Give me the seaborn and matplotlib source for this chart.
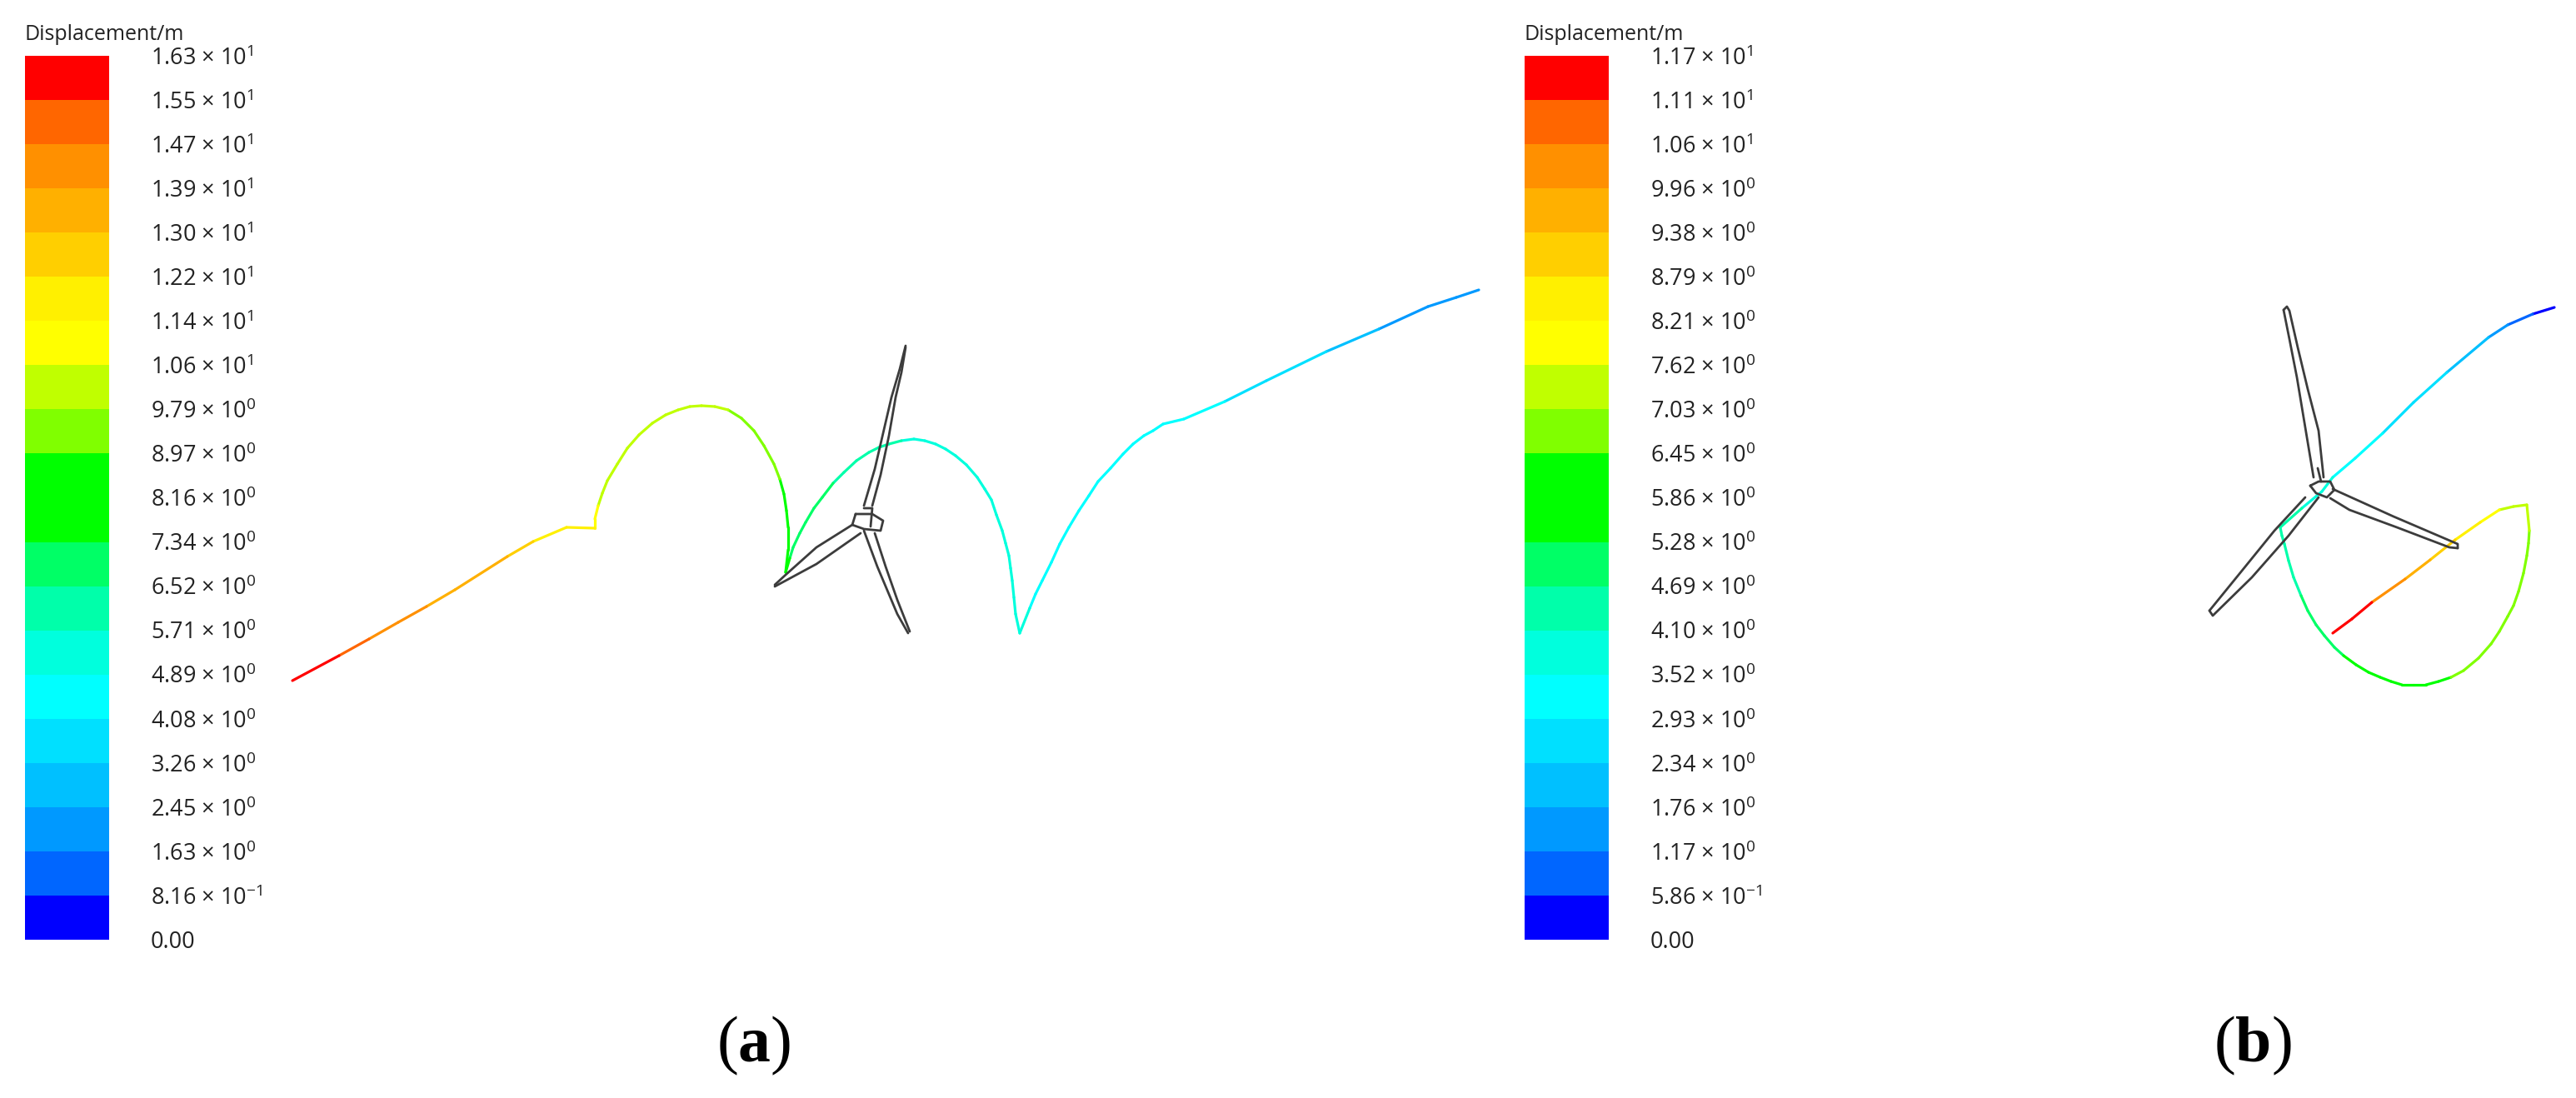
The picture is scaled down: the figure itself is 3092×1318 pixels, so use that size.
import numpy as np
import pandas as pd
import matplotlib
matplotlib.use('Agg')
import matplotlib.pyplot as plt
from matplotlib.colors import ListedColormap, BoundaryNorm
import seaborn as sns

W, H = 3092, 1318

# colour bands, top of the legend to bottom
band_colors = ['#ff0000', '#ff6600', '#ff9000', '#ffb000', '#ffcf00', '#fff000', '#ffff00',
               '#c0ff00', '#80ff00', '#00ff00', '#00ff00', '#00ff66', '#00ffaa', '#00ffdd',
               '#00ffff', '#00e0ff', '#00c0ff', '#0099ff', '#0066ff', '#0000ff']

levels_a = [16.3, 15.5, 14.7, 13.9, 13.0, 12.2, 11.4, 10.6, 9.79, 8.97, 8.16, 7.34, 6.52,
            5.71, 4.89, 4.08, 3.26, 2.45, 1.63, 0.816, 0.0]
levels_b = [11.7, 11.1, 10.6, 9.96, 9.38, 8.79, 8.21, 7.62, 7.03, 6.45, 5.86, 5.28, 4.69,
            4.10, 3.52, 2.93, 2.34, 1.76, 1.17, 0.586, 0.0]

# trajectory (a) in image pixels, with displacement from the colour
trace_a_x = [351, 407, 443, 478, 512, 546, 609, 640, 680, 714,
             714, 718, 723, 729, 741, 753, 767, 783, 799, 814, 828, 842,
             858, 874, 890, 905, 917, 929, 936, 941, 944, 946, 946, 943,
             948, 952, 960, 967, 977, 987, 1000, 1013, 1028, 1043,
             1055, 1067, 1082, 1097, 1110, 1123, 1135, 1147, 1160,
             1173, 1182, 1190, 1196, 1203, 1207, 1211, 1213, 1215, 1217, 1219, 1224,
             1236, 1243, 1251, 1262, 1272, 1283, 1295, 1307, 1318, 1333, 1348, 1360,
             1373, 1384, 1396, 1421,
             1470, 1520, 1592, 1655, 1714, 1748, 1775]
trace_a_y = [817, 787, 767, 747, 728, 708, 668, 650, 633, 634,
             623, 607, 592, 577, 557, 538, 522, 508, 498, 492, 488, 487,
             488, 492, 502, 517, 535, 557, 575, 593, 613, 633, 660, 687,
             670, 657, 640, 627, 610, 597, 580, 567, 553, 543,
             537, 533, 529, 527, 529, 533, 539, 547, 558,
             573, 587, 600, 618, 637, 652, 667, 682, 697, 717, 737, 760,
             730, 713, 697, 675, 653, 633, 613, 595, 578, 562, 545, 533,
             523, 517, 509, 503,
             482, 457, 422, 395, 368, 357, 348]
trace_a_d = [16.0, 15.0, 14.6, 14.2, 13.8, 13.5, 12.6, 12.0, 11.5, 11.0,
             10.8, 10.5, 10.4, 10.3, 10.3, 10.2, 10.1, 10.0, 10.0, 10.0, 9.9, 9.9,
             9.8, 9.6, 9.6, 9.5, 9.2, 9.0, 8.9, 8.8, 8.7, 8.5, 8.0, 7.5,
             7.2, 7.0, 7.0, 7.0, 6.9, 6.8, 6.5, 6.3, 6.1, 6.0,
             5.9, 5.8, 5.7, 5.6, 5.6, 5.5, 5.5, 5.4, 5.4,
             5.3, 5.3, 5.2, 5.2, 5.2, 5.1, 5.1, 5.1, 5.0, 5.0, 5.0, 4.9,
             4.8, 4.8, 4.8, 4.8, 4.7, 4.7, 4.7, 4.7, 4.6, 4.6, 4.6, 4.5,
             4.5, 4.5, 4.5, 4.5,
             4.0, 3.4, 3.0, 2.4, 2.0, 1.7, 1.2]

trace_b_x = [2800, 2823, 2847, 2887, 2917, 2947, 2977, 3000, 3017, 3033,
             3036, 3035, 3033, 3029, 3023, 3017, 3010, 3000, 2990, 2975, 2957,
             2942, 2927, 2912, 2897, 2883, 2870, 2857, 2843, 2828, 2813,
             2802, 2790, 2780, 2770, 2762, 2753, 2747, 2742, 2739, 2737,
             2763, 2787, 2800, 2827, 2860, 2897, 2937, 2987, 3010, 3040, 3066]
trace_b_y = [760, 743, 723, 695, 672, 648, 627, 612, 608, 606,
             637, 652, 667, 688, 710, 727, 740, 758, 773, 790, 805,
             813, 818, 822, 822, 822, 818, 813, 807, 798, 787,
             777, 763, 750, 733, 715, 693, 673, 653, 643, 633,
             610, 590, 573, 550, 520, 483, 447, 405, 390, 377, 369]
trace_b_d = [11.5, 11.2, 10.5, 9.6, 9.0, 8.3, 7.8, 7.4, 7.2, 7.1,
             6.9, 6.8, 6.7, 6.7, 6.6, 6.6, 6.5, 6.5, 6.5, 6.5, 6.5,
             6.2, 6.1, 6.0, 5.9, 5.8, 5.6, 5.5, 5.4, 5.3, 5.2,
             5.1, 5.0, 4.9, 4.8, 4.65, 4.5, 4.4, 4.3, 4.2, 4.15,
             4.0, 3.7, 3.4, 3.2, 2.9, 2.6, 2.2, 1.5, 1.0, 0.5, 0.3]

# turbine outlines, one list of (x, y) per stroke
turbine_a = [
    [(1087, 415), (1080, 443), (1070, 477), (1060, 520), (1050, 563), (1037, 607)],
    [(1087, 417), (1082, 447), (1075, 477), (1067, 523), (1057, 570), (1047, 607)],
    [(930, 702), (943, 690), (980, 657), (1023, 630)],
    [(930, 704), (980, 677), (1033, 640)],
    [(1090, 760), (1077, 737), (1053, 680), (1037, 637)],
    [(1092, 758), (1077, 720), (1063, 680), (1050, 640)],
    [(1027, 617), (1047, 617), (1060, 625), (1057, 637), (1037, 635), (1023, 630), (1027, 617)],
    [(1037, 610), (1047, 610), (1045, 632)],
]
turbine_b = [
    [(2741, 372), (2748, 407), (2757, 453), (2767, 513), (2777, 573)],
    [(2741, 372), (2745, 368), (2748, 373), (2758, 417), (2770, 467), (2783, 517), (2789, 573)],
    [(2652, 733), (2687, 690), (2730, 637), (2767, 597)],
    [(2652, 733), (2656, 739), (2703, 693), (2747, 643), (2783, 597)],
    [(2800, 587), (2873, 620), (2950, 653), (2950, 658)],
    [(2797, 598), (2820, 612), (2877, 633), (2940, 657), (2950, 658)],
    [(2773, 583), (2783, 578), (2797, 578), (2802, 588), (2793, 597), (2780, 592), (2773, 583)],
    [(2782, 562), (2786, 578)],
]

sns.set_theme(style='white')
plt.rcParams['font.family'] = ['Open Sans', 'DejaVu Sans']
plt.rcParams['mathtext.fontset'] = 'custom'
plt.rcParams['mathtext.rm'] = 'Liberation Serif'
plt.rcParams['mathtext.bf'] = 'Liberation Serif:bold'

cmap = ListedColormap(band_colors[::-1])


def level_label(v):
    if v == 0:
        return '0.00'
    mant, exp = f'{v:.2e}'.split('e')
    return f'{mant} × 10$^{{\\mathregular{{{int(exp)}}}}}$'


def draw_legend(fig, levels, left):
    """Stacked colour key, drawn as a one column heatmap."""
    cax = fig.add_axes([left / W, 1 - 1128 / H, 101 / W, 1061 / H])
    asc = levels[::-1]
    norm = BoundaryNorm(asc, len(asc) - 1)
    mids = [[(a + b) / 2] for a, b in zip(levels[:-1], levels[1:])]
    sns.heatmap(np.array(mids), cmap=cmap, norm=norm, cbar=False, ax=cax,
                xticklabels=False, yticklabels=False)
    cax.set_yticks(np.arange(len(levels)))
    cax.set_yticklabels([level_label(v) for v in levels], rotation=0, fontsize=19.5, color='#222222')
    cax.yaxis.tick_right()
    cax.tick_params(axis='y', length=0, pad=36)
    cax.set_title('Displacement/m', loc='left', fontsize=18, color='#222222', pad=14)
    return norm


def draw_trace(ax, x, y, disp, norm):
    rows = []
    for i in range(len(x) - 1):
        band = int(norm(disp[i]))
        rows.append((i, x[i], y[i], band))
        rows.append((i, x[i + 1], y[i + 1], band))
    df = pd.DataFrame(rows, columns=['seg', 'x', 'y', 'band'])
    palette = {b: cmap(b) for b in df['band'].unique()}
    sns.lineplot(data=df, x='x', y='y', units='seg', hue='band', palette=palette, estimator=None,
                 sort=False, legend=False, linewidth=2.3, ax=ax, solid_capstyle='round')


def draw_turbine(ax, strokes):
    for stroke in strokes:
        px, py = zip(*stroke)
        sns.lineplot(x=list(px), y=list(py), sort=False, estimator=None, color='#3c3c3c',
                     linewidth=2.0, ax=ax)


fig = plt.figure(figsize=(W / 100, H / 100), dpi=100, facecolor='white')
norm_a = draw_legend(fig, levels_a, 30)
norm_b = draw_legend(fig, levels_b, 1830)

ax = fig.add_axes([0, 0, 1, 1])
ax.patch.set_alpha(0)
draw_trace(ax, trace_a_x, trace_a_y, trace_a_d, norm_a)
draw_trace(ax, trace_b_x, trace_b_y, trace_b_d, norm_b)
draw_turbine(ax, turbine_a)
draw_turbine(ax, turbine_b)
ax.set_xlim(0, W)
ax.set_ylim(H, 0)
ax.set_axis_off()

ax.text(905, 1254, r'$\mathrm{(}\mathbf{a}\mathrm{)}$', fontsize=56, ha='center', va='center', color='black')
ax.text(2704, 1254, r'$\mathrm{(}\mathbf{b}\mathrm{)}$', fontsize=56, ha='center', va='center', color='black')

fig.savefig('out.png', dpi=100)
